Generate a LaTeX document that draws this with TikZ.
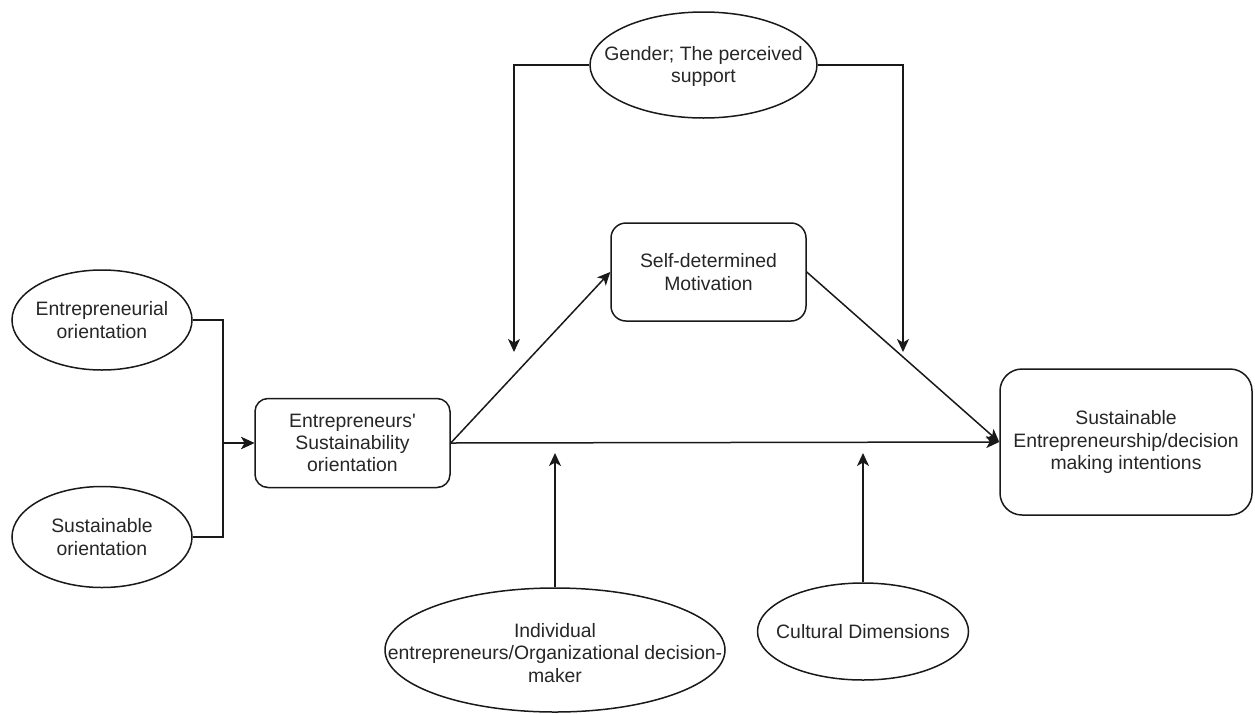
\documentclass[tikz,border=0pt]{standalone}
\usepackage{fontspec}
\setmainfont{Liberation Sans}
\newfontfamily\plainquote{Liberation Sans}[Ligatures=TeXOff]
\usetikzlibrary{shapes.geometric,arrows.meta}
\begin{document}
\begin{tikzpicture}[x=1pt,y=-1pt,
  every node/.style={font=\fontsize{19.4}{22.3}\selectfont, text=black!85},
  oval/.style={draw=black!90, line width=1.5pt, ellipse, inner sep=0pt},
  txt/.style={align=center, inner sep=0pt},
  rbox/.style={draw=black!90, line width=1.5pt, rectangle, align=center, inner sep=0pt},
  link/.style={draw=black!90, line width=1.5pt},
  arr/.style={link, -{Stealth[length=13pt,width=12pt,inset=3.5pt]}}
]
\useasboundingbox (0,0) rectangle (1255,713);

% factor ellipses (outline and text drawn separately)
\node[oval, minimum width=180pt, minimum height=100pt] (eo) at (102,320) {};
\node[txt] (eo-t) at (eo.center) {Entrepreneurial\\orientation};
\node[oval, minimum width=180pt, minimum height=101pt] (so) at (102,537) {};
\node[txt] (so-t) at (so.center) {Sustainable\\orientation};
\node[oval, minimum width=227pt, minimum height=106pt] (gen) at (703.5,65) {};
\node[txt] (gen-t) at (703.5,66.5) {Gender; The perceived\\support};
\node[oval, minimum width=340pt, minimum height=124pt] (ind) at (555,650) {};
\node[txt] (ind-t) at (555,653) {Individual\\entrepreneurs/Organizational decision-\\maker};
\node[oval, minimum width=211pt, minimum height=97pt] (cul) at (863,631.5) {};
\node[txt] (cul-t) at (863,632) {Cultural Dimensions};

% construct boxes
\node[rbox, rounded corners=13pt, minimum width=195pt, minimum height=89pt] (eso) at (352.5,443) {Entrepreneurs{\plainquote '}\\Sustainability\\orientation};
\node[rbox, rounded corners=15pt, minimum width=195pt, minimum height=98pt] (sdm) at (708.5,272) {Self-determined\\Motivation};
\node[rbox, rounded corners=22pt, minimum width=252pt, minimum height=146pt] (sei) at (1126,442) {Sustainable\\Entrepreneurship/decision\\making intentions};

% junction and moderator target points
\coordinate (jx) at (223,443);
\coordinate (gl) at (514,352);
\coordinate (gr) at (903,352);
\coordinate (il) at (555,453);
\coordinate (cl) at (863,453);

% antecedents into the orientation box
\draw[arr] (eo.east) -| (jx) -- (eso.west);
\draw[arr] (so.east) -| (jx) -- (eso.west);

% main paths
\draw[arr] (eso.east) -- (sdm.west);
\draw[arr] (sdm.east) -- (sei.west);
\draw[arr] (eso.east) -- (sei.west);

% moderators
\draw[arr] (gen.west) -| (gl);
\draw[arr] (gen.east) -| (gr);
\draw[arr] (ind.north) -- (il);
\draw[arr] (cul.north) -- (cl);
\end{tikzpicture}
\end{document}
